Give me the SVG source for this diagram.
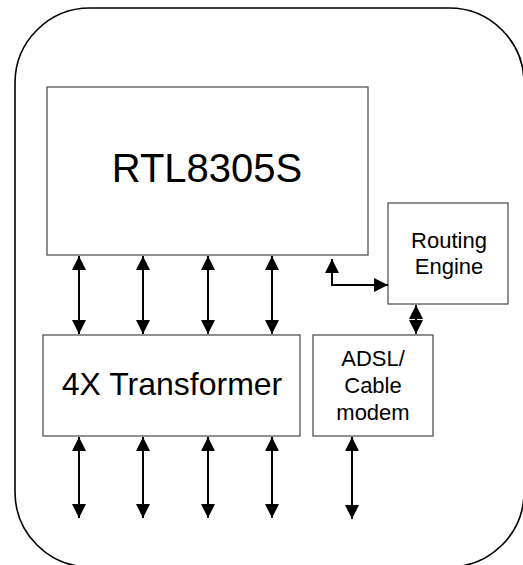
<svg xmlns="http://www.w3.org/2000/svg" width="523" height="565" viewBox="0 0 523 565">
<style>
.box{fill:#fff;stroke:#555;stroke-width:1.3}
.t{font-family:"Liberation Sans",Arial,sans-serif;fill:#000;text-anchor:middle}
.c{fill:none;stroke:#000;stroke-width:2;marker-start:url(#ah);marker-end:url(#ah)}
</style>
<defs>
<marker id="ah" markerUnits="userSpaceOnUse" markerWidth="16" markerHeight="16" viewBox="0 0 16 16" refX="15" refY="8" orient="auto-start-reverse">
<path d="M1,1 L15,8 L1,15 z" fill="#000"/>
</marker>
</defs>
<rect x="15" y="8" width="509" height="559" rx="75" ry="75" fill="#fff" stroke="#000" stroke-width="1.6"/>
<g id="rtl8305s"><rect class="box" x="47" y="87" width="321" height="168"/><text class="t" x="207" y="182" font-size="40">RTL8305S</text></g>
<g id="routing"><rect class="box" x="388" y="203" width="120" height="101"/><text class="t" x="449" y="248" font-size="22">Routing</text><text class="t" x="449" y="274" font-size="22">Engine</text></g>
<g id="transformer"><rect class="box" x="43" y="335" width="257" height="101"/><text class="t" x="172" y="395" font-size="32">4X Transformer</text></g>
<g id="adsl"><rect class="box" x="313" y="335" width="120" height="101"/><text class="t" x="373" y="366" font-size="22">ADSL/</text><text class="t" x="373" y="393" font-size="22">Cable</text><text class="t" x="373" y="420" font-size="22">modem</text></g>
<g id="connectors">
<line class="c" x1="79" y1="256" x2="79" y2="334"/>
<line class="c" x1="143" y1="256" x2="143" y2="334"/>
<line class="c" x1="208" y1="256" x2="208" y2="334"/>
<line class="c" x1="272" y1="256" x2="272" y2="334"/>
<line class="c" x1="79" y1="437" x2="79" y2="518"/>
<line class="c" x1="143" y1="437" x2="143" y2="518"/>
<line class="c" x1="208" y1="437" x2="208" y2="518"/>
<line class="c" x1="272" y1="437" x2="272" y2="518"/>
<line class="c" x1="352" y1="437" x2="352" y2="519"/>
<polyline class="c" points="332,259 332,285 388,285"/>
<line class="c" x1="416" y1="305" x2="416" y2="334"/>
</g>
</svg>
